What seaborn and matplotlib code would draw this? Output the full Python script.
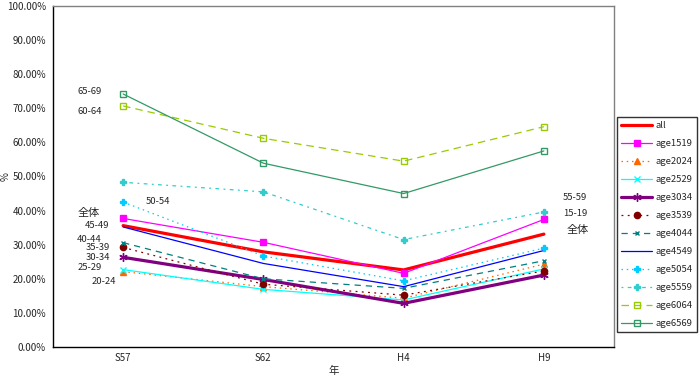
import pandas as pd
import matplotlib
matplotlib.use("Agg")
import matplotlib.pyplot as plt
import seaborn as sns
from matplotlib.ticker import PercentFormatter

sns.set_style("white")
plt.rcParams['font.family'] = ['Noto Sans CJK JP', 'DejaVu Sans']
plt.rcParams['axes.unicode_minus'] = False

# データ（割合）
years = ["S57", "S62", "H4", "H9"]
all_ages = [0.356, 0.279, 0.226, 0.331]
age1519 = [0.377, 0.307, 0.216, 0.374]
age2024 = [0.221, 0.177, 0.143, 0.243]
age2529 = [0.227, 0.169, 0.138, 0.229]
age3034 = [0.263, 0.198, 0.128, 0.211]
age3539 = [0.292, 0.184, 0.152, 0.223]
age4044 = [0.306, 0.200, 0.172, 0.253]
age4549 = [0.352, 0.245, 0.177, 0.283]
age5054 = [0.425, 0.267, 0.194, 0.290]
age5559 = [0.483, 0.455, 0.315, 0.396]
age6064 = [0.707, 0.612, 0.545, 0.646]
age6569 = [0.742, 0.539, 0.450, 0.575]

names = ["all", "age1519", "age2024", "age2529", "age3034", "age3539",
         "age4044", "age4549", "age5054", "age5559", "age6064", "age6569"]
values = [all_ages, age1519, age2024, age2529, age3034, age3539,
          age4044, age4549, age5054, age5559, age6064, age6569]

df = pd.DataFrame({
    "年": years * len(names),
    "系列": [n for n in names for _ in years],
    "値": [v for vals in values for v in vals],
})

# 線のスタイル（色, 線幅, 線種, マーカー, 塗り, サイズ）
styles = {
    "all":     ("#FF0000", 2.3, "-", None, None, 0),
    "age1519": ("#FF00FF", 0.9, "-", "s", "#FF00FF", 4.5),
    "age2024": ("#FF6600", 0.9, (0, (1.2, 3)), "^", "#FF6600", 4.5),
    "age2529": ("#00FFFF", 0.9, "-", "x", "#00FFFF", 4),
    "age3034": ("#800080", 2.3, "-", (6, 2, 0), "#800080", 6),
    "age3539": ("#800000", 0.9, (0, (1.5, 3.5)), "o", "#800000", 4.5),
    "age4044": ("#008080", 0.9, (0, (5, 4)), "x", "#008080", 3.5),
    "age4549": ("#0000FF", 0.9, "-", None, None, 0),
    "age5054": ("#00CCFF", 0.9, (0, (1.2, 3)), "P", "#00CCFF", 5),
    "age5559": ("#33CCCC", 0.9, (0, (1.5, 3.5, 3, 3.5)), "P", "#33CCCC", 5),
    "age6064": ("#99CC00", 0.9, (0, (6, 4)), "s", "none", 4.5),
    "age6569": ("#339966", 0.9, "-", "s", "none", 4.5),
}

fig = plt.figure(figsize=(6.99, 3.79), dpi=100)
ax = fig.add_axes([53 / 699, 32 / 379, 561 / 699, 341 / 379])

for name in names:
    color, lw, ls, mk, mfc, ms = styles[name]
    kw = dict(color=color, linewidth=lw, linestyle=ls, label=name)
    if mk is not None:
        kw.update(marker=mk, markersize=ms, markerfacecolor=mfc,
                  markeredgecolor=color, markeredgewidth=1.0)
    sns.lineplot(data=df[df["系列"] == name], x="年", y="値", ax=ax,
                 sort=False, legend=False, **kw)

ax.set_xlim(-0.5, 3.5)
ax.set_ylim(0, 1.0)
ax.set_yticks([i / 10 for i in range(11)])
ax.yaxis.set_major_formatter(PercentFormatter(1.0, decimals=2))
ax.set_xticks(range(len(years)))
ax.set_xticklabels(years)
ax.set_xticks([-0.5, 0.5, 1.5, 2.5, 3.5], minor=True)
ax.tick_params(axis='x', which='major', length=0, labelsize=7, pad=4)
ax.tick_params(axis='x', which='minor', length=4, direction='out', width=0.8)
ax.tick_params(axis='y', length=3, direction='out', labelsize=7, pad=2, width=0.8)
ax.set_xlabel("年", fontsize=7.5, va='center')
ax.xaxis.set_label_coords(0.5, -24 / 341)
ax.set_ylabel("%", fontsize=7)
ax.yaxis.set_label_coords(-42 / 561, 0.5)

for side in ["left", "bottom"]:
    ax.spines[side].set_color("black")
    ax.spines[side].set_linewidth(1.0)
for side in ["top", "right"]:
    ax.spines[side].set_color("#808080")
    ax.spines[side].set_linewidth(1.0)

# ラベル
labels_left = [("65-69", 78, 91), ("60-64", 78, 112), ("50-54", 146, 202),
               ("45-49", 85, 226), ("40-44", 77, 239), ("35-39", 86, 248),
               ("30-34", 86, 258), ("25-29", 78, 268), ("20-24", 92, 281),
               ("55-59", 563, 197), ("15-19", 563, 213)]
for txt, px, py in labels_left:
    fig.text(px / 699, 1 - py / 379, txt, fontsize=6.8, va='center', ha='left')
fig.text(78 / 699, 1 - 213 / 379, "全体", fontsize=8, va='center', ha='left')
fig.text(567 / 699, 1 - 230 / 379, "全体", fontsize=8, va='center', ha='left')

handles, labs = ax.get_legend_handles_labels()
leg = fig.legend(handles, labs, loc='upper left',
                 bbox_to_anchor=(617 / 699, 1 - 117 / 379),
                 fontsize=6.8, frameon=True, fancybox=False,
                 edgecolor='black', handlelength=3.3, handletextpad=0.3,
                 labelspacing=0.95, borderpad=0.45, borderaxespad=0)
leg.get_frame().set_linewidth(1.0)

fig.savefig("out.png", dpi=100)
